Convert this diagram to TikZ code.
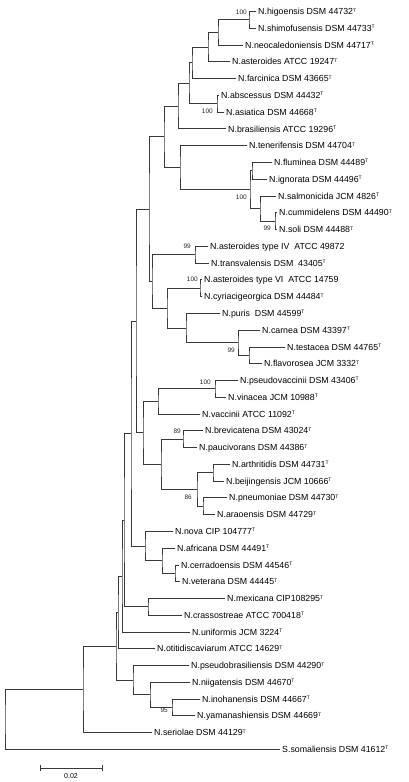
\documentclass[tikz,border=0pt]{standalone}
\usepackage{fontspec}
\setmainfont{Liberation Sans}
\usetikzlibrary{calc}
\newcommand\supT{\raisebox{2.6pt}{\fontsize{5}{5}\selectfont T}}
\tikzset{
  br/.style={line width=0.8pt, draw=black!78, line cap=rect},
  lab/.style={anchor=west, inner sep=0pt, font=\fontsize{8.8}{10}\selectfont, text height=6.3pt, text depth=0pt},
  boot/.style={anchor=east, inner sep=0pt, font=\fontsize{6.5}{7}\selectfont, text=black!85},
}
\newcommand\tleaf[4]{%
  \coordinate (#1) at ({#3},{11.5+(#2-1)*16.77});
  \node[lab] (#1t) at ([xshift=2pt]#1) {#4};}
\newcommand\inode[4]{%
  \path let \p1=($(#3)!.5!(#4)$) in (#2pt,\y1) coordinate (#1);
  \draw[br] (#3) -| (#1) |- (#4);}
\begin{document}
\begin{tikzpicture}[x=1pt,y=-1pt]
\useasboundingbox (0,0) rectangle (408,782);
\tleaf{higo}{1}{256}{N.higoensis DSM 44732\supT}
\tleaf{shimo}{2}{256}{N.shimofusensis DSM 44733\supT}
\tleaf{neocal}{3}{243}{N.neocaledoniensis DSM 44717\supT}
\tleaf{aster}{4}{230}{N.asteroides ATCC 19247\supT}
\tleaf{farc}{5}{236}{N.farcinica DSM 43665\supT}
\tleaf{absc}{6}{219}{N.abscessus DSM 44432\supT}
\tleaf{asia}{7}{224}{N.asiatica DSM 44668\supT}
\tleaf{bras}{8}{226}{N.brasiliensis ATCC 19296\supT}
\tleaf{tene}{9}{247}{N.tenerifensis DSM 44704\supT}
\tleaf{flum}{10}{272}{N.fluminea DSM 44489\supT}
\tleaf{igno}{11}{267}{N.ignorata DSM 44496\supT}
\tleaf{salm}{12}{276}{N.salmonicida JCM 4826\supT}
\tleaf{cumm}{13}{277}{N.cummidelens DSM 44490\supT}
\tleaf{soli}{14}{277}{N.soli DSM 44488\supT}
\tleaf{astIV}{15}{208}{N.asteroides type IV\ \ ATCC 49872}
\tleaf{trans}{16}{209}{N.transvalensis DSM\ \ 43405\supT}
\tleaf{astVI}{17}{202}{N.asteroides type VI\ \ ATCC 14759}
\tleaf{cyri}{18}{202}{N.cyriacigeorgica DSM 44484\supT}
\tleaf{puris}{19}{220}{N.puris\ \ DSM 44599\supT}
\tleaf{carn}{20}{260}{N.carnea DSM 43397\supT}
\tleaf{test}{21}{285}{N.testacea DSM 44765\supT}
\tleaf{flav}{22}{262}{N.flavorosea JCM 3332\supT}
\tleaf{psvac}{23}{238}{N.pseudovaccinii DSM 43406\supT}
\tleaf{vina}{24}{226}{N.vinacea JCM 10988\supT}
\tleaf{vacc}{25}{200}{N.vaccinii ATCC 11092\supT}
\tleaf{brev}{26}{203}{N.brevicatena DSM 43024\supT}
\tleaf{pauc}{27}{197}{N.paucivorans DSM 44386\supT}
\tleaf{arth}{28}{230}{N.arthritidis DSM 44731\supT}
\tleaf{beij}{29}{224}{N.beijingensis JCM 10666\supT}
\tleaf{pneu}{30}{227}{N.pneumoniae DSM 44730\supT}
\tleaf{arao}{31}{215}{N.araoensis DSM 44729\supT}
\tleaf{nova}{32}{173}{N.nova CIP 104777\supT}
\tleaf{afri}{33}{175}{N.africana DSM 44491\supT}
\tleaf{cerr}{34}{179}{N.cerradoensis DSM 44546\supT}
\tleaf{vete}{35}{180}{N.veterana DSM 44445\supT}
\tleaf{mexi}{36}{225}{N.mexicana CIP108295\supT}
\tleaf{cras}{37}{182}{N.crassostreae ATCC 700418\supT}
\tleaf{unif}{38}{190}{N.uniformis JCM 3224\supT}
\tleaf{otit}{39}{155}{N.otitidiscaviarum ATCC 14629\supT}
\tleaf{psbr}{40}{189}{N.pseudobrasiliensis DSM 44290\supT}
\tleaf{niig}{41}{190}{N.niigatensis DSM 44670\supT}
\tleaf{inoh}{42}{200}{N.inohanensis DSM 44667\supT}
\tleaf{yama}{43}{195}{N.yamanashiensis DSM 44669\supT}
\tleaf{seri}{44}{152}{N.seriolae DSM 44129\supT}
\tleaf{soma}{45}{280}{S.somaliensis DSM 41612\supT}
% internal nodes
\inode{A1}{249}{higo}{shimo}
\inode{A2}{218}{A1}{neocal}
\inode{A3}{208}{A2}{aster}
\inode{A4}{192}{A3}{farc}
\inode{A5}{217}{absc}{asia}
\inode{A6}{189}{A4}{A5}
\inode{A7}{178}{A6}{bras}
\inode{B3}{252}{flum}{igno}
\inode{B5}{275}{cumm}{soli}
\inode{B4}{260}{salm}{B5}
\inode{B2}{250}{B3}{B4}
\inode{B1}{180}{tene}{B2}
\inode{C1}{164}{A7}{B1}
\inode{D1}{195}{astIV}{trans}
\inode{D3}{200}{astVI}{cyri}
\inode{D6}{249}{test}{flav}
\inode{D5}{238}{carn}{D6}
\inode{D4}{186}{puris}{D5}
\inode{D2}{167}{D3}{D4}
\inode{C2}{152}{D1}{D2}
\inode{C3}{149}{C1}{C2}
\inode{E3}{215}{psvac}{vina}
\inode{E1}{158}{E3}{vacc}
\inode{E4}{183}{brev}{pauc}
\inode{E6}{213}{arth}{beij}
\inode{E7}{203}{pneu}{arao}
\inode{E5}{197}{E6}{E7}
\inode{E2}{161}{E4}{E5}
\inode{E0}{143}{E1}{E2}
\inode{C4}{136}{C3}{E0}
\inode{F3}{175}{cerr}{vete}
\inode{F2}{162}{afri}{F3}
\inode{F1}{145}{nova}{F2}
\inode{C5}{131}{C4}{F1}
\inode{G1}{148}{mexi}{cras}
\inode{C6}{124}{C5}{G1}
\inode{C7}{122}{C6}{unif}
\inode{C8}{118}{C7}{otit}
\inode{H3}{172}{inoh}{yama}
\inode{H2}{150}{niig}{H3}
\inode{H1}{133}{psbr}{H2}
\inode{C9}{116}{C8}{H1}
\inode{R1}{83}{C9}{seri}
\inode{R0}{5}{R1}{soma}
% bootstrap values
\node[boot] (bA1) at (247,12) {100};
\node[boot] (bA5) at (213,111) {100};
\node[boot] (bB2) at (247,197) {100};
\node[boot] (bB5) at (271,228) {99};
\node[boot] (bD1) at (191,246) {99};
\node[boot] (bD3) at (198,279) {100};
\node[boot] (bD5) at (235,350) {99};
\node[boot] (bE3) at (211,382) {100};
\node[boot] (bE4) at (181,431) {89};
\node[boot] (bE5) at (192,497) {86};
\node[boot] (bH3) at (168,710) {95};
% scale bar
\coordinate (sb1) at (40,768);
\coordinate (sb2) at (102,768);
\draw[br, line cap=butt] (sb1) -- (sb2);
\draw[br, line cap=butt] ([yshift=3pt]sb1) -- ([yshift=-3pt]sb1);
\draw[br, line cap=butt] ([yshift=3pt]sb2) -- ([yshift=-3pt]sb2);
\node[inner sep=0pt, font=\fontsize{7}{8}\selectfont] (sbl) at (71,776) {0.02};
\end{tikzpicture}
\end{document}
